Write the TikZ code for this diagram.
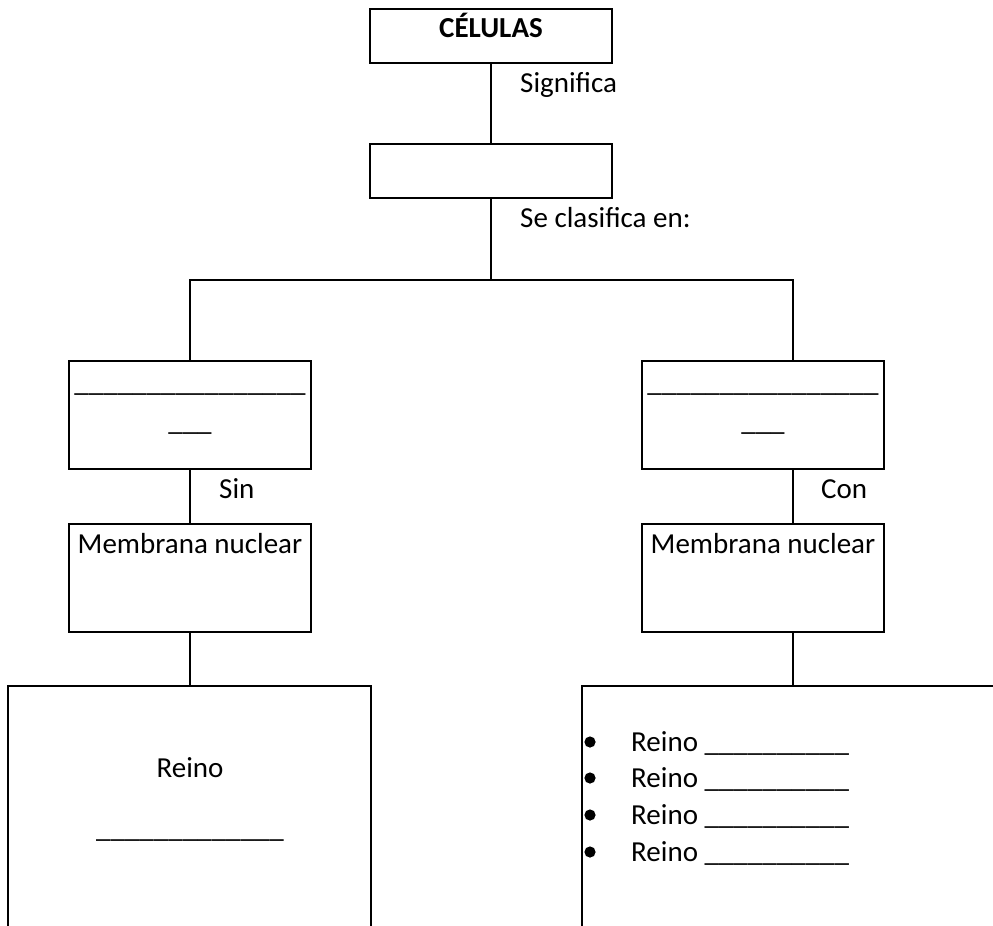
\documentclass[tikz,border=0pt]{standalone}
\usepackage{fontspec}
\setmainfont{Carlito}
\begin{document}
\begin{tikzpicture}[x=1pt,y=-1pt,
  every node/.style={font=\fontsize{29}{35}\selectfont},
  box/.style={draw, line width=1.5pt, inner sep=0pt, rectangle},
  wide/.style={box, minimum width=242pt},
  conn/.style={line width=1.5pt},
  txt/.style={inner sep=0pt, anchor=base},
  txtw/.style={inner sep=0pt, anchor=base west}]
\useasboundingbox[fill=white] (0,0) rectangle (993,926);
% boxes
\node[wide, minimum height=54pt] (cel) at (491,36) {};
\node[wide, minimum height=54pt] (sig) at (491,171) {};
\node[wide, minimum height=108pt] (pro) at (190,415) {};
\node[wide, minimum height=108pt] (euk) at (763,415) {};
\node[wide, minimum height=108pt] (mempro) at (190,578) {};
\node[wide, minimum height=108pt] (memeuk) at (763,578) {};
% open bottom boxes
\draw[conn] (8,926) -- (8,686) -- (371,686) -- (371,926);
\draw[conn] (582,926) -- (582,686) -- (993,686);
\coordinate (reinol) at (190,686);
\coordinate (reinor) at (793,686);
\coordinate (split) at (491,280);
% connectors
\draw[conn] (cel.south) -- (sig.north);
\draw[conn] (sig.south) -- (split);
\draw[conn] (pro.north) |- (split) -| (euk.north -| 793,0);
\draw[conn] (pro.south) -- (mempro.north);
\draw[conn] (euk.south -| 793,0) -- (memeuk.north -| 793,0);
\draw[conn] (mempro.south) -- (reinol);
\draw[conn] (memeuk.south -| 793,0) -- (reinor);
% texts
\node[txt, font=\fontsize{29}{35}\selectfont\bfseries] (tcel) at (491,37) {CÉLULAS};
\node[txtw] (tsig) at (520,92) {Significa};
\node[txtw] (tsec) at (520,227) {Se clasifica en:};
\node[txt] (tpro1) at (190,391) {\_\_\_\_\_\_\_\_\_\_\_\_\_\_\_\_};
\node[txt] (tpro2) at (190,430) {\_\_\_};
\node[txt] (teuk1) at (763,391) {\_\_\_\_\_\_\_\_\_\_\_\_\_\_\_\_};
\node[txt] (teuk2) at (763,430) {\_\_\_};
\node[txtw] (tsin) at (219,498) {Sin};
\node[txtw] (tcon) at (821,498) {Con};
\node[txt] (tmem1) at (190,553) {Membrana nuclear};
\node[txt] (tmem2) at (763,553) {Membrana nuclear};
\node[txt] (treino) at (190,777) {Reino};
\node[txt] (treinou) at (190,837) {\_\_\_\_\_\_\_\_\_\_\_\_\_};
\foreach \y [count=\i] in {751,787,824,861}{
  \fill (590,\y-9) circle (5.6);
  \node[txtw] (tr\i) at (631,\y) {Reino \_\_\_\_\_\_\_\_\_\_};
}
\end{tikzpicture}
\end{document}
